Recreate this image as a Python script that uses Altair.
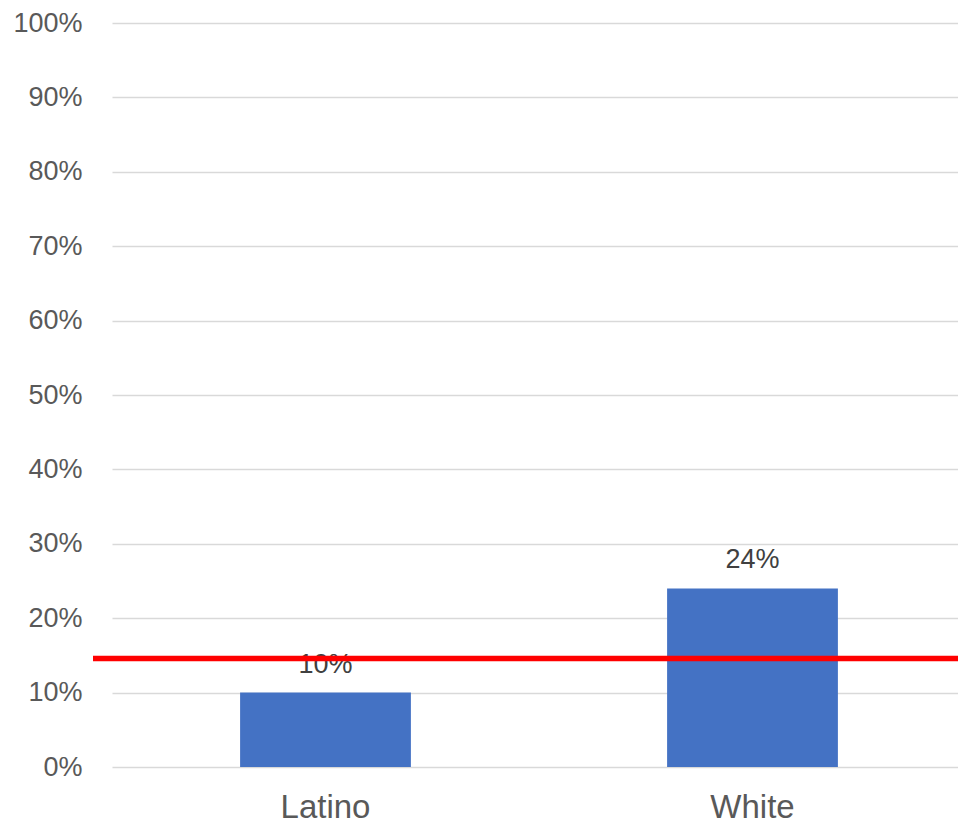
import altair as alt
import pandas as pd

categories = ["Latino", "White"]
values = [0.10, 0.24]
benchmark = [0.146]

df = pd.DataFrame({"group": categories, "value": values})
bench_df = pd.DataFrame({"benchmark": benchmark})

FONT = "Liberation Sans"
W, H = 846, 744
BAND_RANGE = 854

x_enc = alt.X("group:N", sort=categories, title=None,
              scale=alt.Scale(paddingInner=0, paddingOuter=0, range=[0, BAND_RANGE]),
              axis=alt.Axis(labelAngle=0, labelFontSize=33, labelColor="#595959",
                            labelFont=FONT, domain=False, ticks=False, labelPadding=24,
                            grid=False))
y_enc = alt.Y("value:Q", title=None,
              scale=alt.Scale(domain=[0, 1], nice=False),
              axis=alt.Axis(format=".0%", values=[i / 10 for i in range(11)],
                            labelFontSize=27, labelColor="#595959", labelFont=FONT,
                            domain=False, ticks=False, labelPadding=30,
                            grid=True, gridColor="#D9D9D9", gridWidth=1.5))

bars = alt.Chart(df).mark_bar(color="#4472C4", width=alt.RelativeBandSize(0.4)).encode(
    x=x_enc, y=y_enc)

labels = alt.Chart(df).mark_text(fontSize=27, color="#404040", font=FONT,
                                 baseline="alphabetic", dy=-20).encode(
    x=alt.X("group:N", sort=categories),
    y=alt.Y("value:Q"),
    text=alt.Text("value:Q", format=".0%"))

rule = alt.Chart(bench_df).mark_rule(color="#FF0000", strokeWidth=5.5).encode(
    y=alt.Y("benchmark:Q"),
    x=alt.value(-19), x2=alt.value(W))

chart = alt.layer(bars, labels, rule).properties(
    width=W, height=H,
    background="white",
    autosize=alt.AutoSizeParams(type="none"),
    padding={"left": 104, "top": 15, "right": 0, "bottom": 56},
).configure_view(stroke=None)

chart.save("out.html", embed_options={"renderer": "svg", "actions": False})
